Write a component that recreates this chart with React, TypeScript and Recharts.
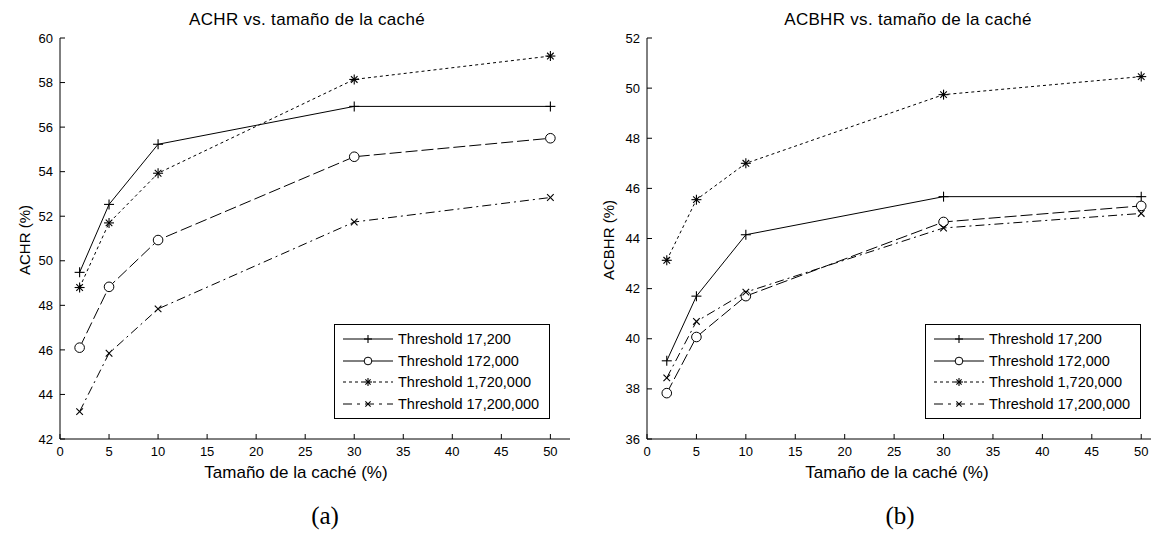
import React from "react";
import { LineChart, Line, XAxis, YAxis, Legend } from "recharts";

// tamaño de la caché (%)
const cacheSizes = [2, 5, 10, 30, 50];
const seriesNames = [
  "Threshold 17,200",
  "Threshold 172,000",
  "Threshold 1,720,000",
  "Threshold 17,200,000",
];

// (a) ACHR (%)
const achr17200 = [49.48, 52.53, 55.23, 56.93, 56.93];
const achr172000 = [46.1, 48.83, 50.93, 54.67, 55.5];
const achr1720000 = [48.8, 51.7, 53.93, 58.14, 59.19];
const achr17200000 = [43.23, 45.85, 47.84, 51.74, 52.84];

// (b) ACBHR (%)
const acbhr17200 = [39.12, 41.7, 44.15, 45.67, 45.67];
const acbhr172000 = [37.83, 40.07, 41.7, 44.66, 45.3];
const acbhr1720000 = [43.13, 45.55, 47.0, 49.74, 50.46];
const acbhr17200000 = [38.44, 40.69, 41.86, 44.42, 45.0];

const xTicks = [0, 5, 10, 15, 20, 25, 30, 35, 40, 45, 50];
const achrTicks = [42, 44, 46, 48, 50, 52, 54, 56, 58, 60];
const acbhrTicks = [36, 38, 40, 42, 44, 46, 48, 50, 52];

const FONT = "'Liberation Sans', Arial, sans-serif";
const keys = ["s0", "s1", "s2", "s3"];
const dashes = [undefined, "12 4", "3 3", "9 4 2 4"];
const legendDashes = [undefined, undefined, "3 3", "9 5 3 5"];
const markers = ["plus", "circle", "star", "cross"];

function buildRows(series: number[][]) {
  return cacheSizes.map((x, i) => {
    const row: any = { x };
    series.forEach((s, k) => {
      row[keys[k]] = s[i];
    });
    return row;
  });
}

const rowsA = buildRows([achr17200, achr172000, achr1720000, achr17200000]);
const rowsB = buildRows([acbhr17200, acbhr172000, acbhr1720000, acbhr17200000]);

function Marker({
  kind,
  cx,
  cy,
  scale = 1,
}: {
  kind: string;
  cx: number;
  cy: number;
  scale?: number;
}) {
  if (cx == null || cy == null) return null;
  const s = 5 * scale;
  const d = 3.3 * scale;
  if (kind === "circle") {
    return <circle cx={cx} cy={cy} r={4.8 * scale} fill="#fff" stroke="#000" strokeWidth={1} />;
  }
  const plus = (
    <>
      <line x1={cx - s} x2={cx + s} y1={cy} y2={cy} />
      <line x1={cx} x2={cx} y1={cy - s} y2={cy + s} />
    </>
  );
  const cross = (
    <>
      <line x1={cx - d} x2={cx + d} y1={cy - d} y2={cy + d} />
      <line x1={cx - d} x2={cx + d} y1={cy + d} y2={cy - d} />
    </>
  );
  return (
    <g stroke="#000" strokeWidth={1.1}>
      {kind === "plus" && plus}
      {kind === "cross" && cross}
      {kind === "star" && (
        <>
          {plus}
          {cross}
        </>
      )}
    </g>
  );
}

const renderLegend = () => (
  <div
    style={{
      border: "1px solid #000",
      background: "#fff",
      padding: "3px 0",
      fontFamily: FONT,
      fontSize: 14.5,
      color: "#000",
    }}
  >
    {seriesNames.map((name, i) => (
      <div key={name} style={{ display: "flex", alignItems: "center", height: 21.7 }}>
        <svg width={62} height={20} style={{ flex: "none" }}>
          <line
            x1={8}
            x2={58}
            y1={10}
            y2={10}
            stroke="#000"
            strokeWidth={1}
            strokeDasharray={legendDashes[i]}
          />
          <Marker kind={markers[i]} cx={33} cy={10} scale={0.8} />
        </svg>
        <span style={{ marginLeft: 1, whiteSpace: "nowrap" }}>{name}</span>
      </div>
    ))}
  </div>
);

function Panel({
  rows,
  yTicks,
  width,
  legendLeft,
}: {
  rows: any[];
  yTicks: number[];
  width: number;
  legendLeft: number;
}) {
  const tickStyle = { fill: "#000", fontSize: 13, fontFamily: FONT };
  const yDomain = [yTicks[0], yTicks[yTicks.length - 1]];
  return (
    <LineChart
      width={width}
      height={534}
      data={rows}
      margin={{ top: 38, right: 10, bottom: 65, left: 0 }}
    >
      <XAxis
        type="number"
        dataKey="x"
        domain={[0, 52]}
        ticks={xTicks}
        interval={0}
        height={30}
        tickSize={-5}
        tickMargin={13}
        tick={tickStyle}
        axisLine={{ stroke: "#000" }}
        tickLine={{ stroke: "#000" }}
      />
      <XAxis
        xAxisId="top"
        orientation="top"
        type="number"
        domain={[0, 52]}
        ticks={xTicks}
        interval={0}
        height={0}
        tickSize={-5}
        tick={false}
        axisLine={{ stroke: "#000" }}
        tickLine={{ stroke: "#000" }}
      />
      <YAxis
        type="number"
        domain={yDomain}
        ticks={yTicks}
        interval={0}
        width={60}
        tickSize={-5}
        tickMargin={12}
        tick={tickStyle}
        axisLine={{ stroke: "#000" }}
        tickLine={{ stroke: "#000" }}
      />
      <YAxis
        yAxisId="right"
        orientation="right"
        type="number"
        domain={yDomain}
        ticks={yTicks}
        interval={0}
        width={0}
        tickSize={-5}
        tick={false}
        axisLine={{ stroke: "#000" }}
        tickLine={{ stroke: "#000" }}
      />
      {keys.map((k, i) => (
        <Line
          key={k}
          type="linear"
          dataKey={k}
          name={seriesNames[i]}
          stroke="#000"
          strokeWidth={1}
          strokeDasharray={dashes[i]}
          dot={(p: any) => <Marker key={`${k}-${p.index}`} kind={markers[i]} cx={p.cx} cy={p.cy} />}
          activeDot={false}
          isAnimationActive={false}
        />
      ))}
      <Legend
        layout="vertical"
        align="center"
        verticalAlign="middle"
        content={renderLegend}
        wrapperStyle={{ left: legendLeft, top: 324, width: 216 }}
      />
    </LineChart>
  );
}

const textBase: React.CSSProperties = {
  position: "absolute",
  fontFamily: FONT,
  color: "#000",
  whiteSpace: "nowrap",
  transform: "translate(-50%, -50%)",
};

export default function App() {
  return (
    <div
      style={{
        position: "absolute",
        left: 0,
        top: 0,
        width: 1151,
        height: 534,
        overflow: "hidden",
        background: "#fff",
      }}
    >
      <div style={{ position: "absolute", left: 0, top: 0 }}>
        <Panel rows={rowsA} yTicks={achrTicks} width={580} legendLeft={334} />
      </div>
      <div style={{ position: "absolute", left: 587, top: 0 }}>
        <Panel rows={rowsB} yTicks={acbhrTicks} width={584} legendLeft={338} />
      </div>

      <div style={{ ...textBase, left: 307, top: 20, fontSize: 17, letterSpacing: 0.3 }}>
        ACHR vs. tamaño de la caché
      </div>
      <div style={{ ...textBase, left: 908, top: 20, fontSize: 17, letterSpacing: 0.3 }}>
        ACBHR vs. tamaño de la caché
      </div>

      <div style={{ ...textBase, left: 24, top: 240, fontSize: 15, transform: "translate(-50%, -50%) rotate(-90deg)" }}>
        ACHR (%)
      </div>
      <div style={{ ...textBase, left: 608, top: 240, fontSize: 15, transform: "translate(-50%, -50%) rotate(-90deg)" }}>
        ACBHR (%)
      </div>

      <div style={{ ...textBase, left: 296, top: 473, fontSize: 17 }}>
        Tamaño de la caché (%)
      </div>
      <div style={{ ...textBase, left: 897, top: 473, fontSize: 17 }}>
        Tamaño de la caché (%)
      </div>

      <div style={{ ...textBase, left: 325, top: 516, fontSize: 25, fontFamily: "'Liberation Serif', 'Times New Roman', serif" }}>
        (a)
      </div>
      <div style={{ ...textBase, left: 900, top: 516, fontSize: 25, fontFamily: "'Liberation Serif', 'Times New Roman', serif" }}>
        (b)
      </div>
    </div>
  );
}
